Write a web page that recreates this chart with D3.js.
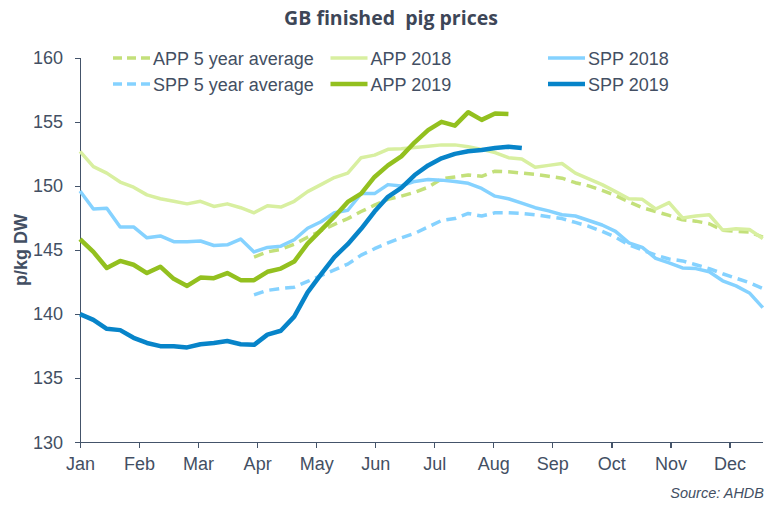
<!DOCTYPE html>
<meta charset="utf-8">
<style>
    body { margin: 0; background: #fff; }
    text { font-family: "Liberation Sans", Arial, sans-serif; fill: #434f63; }
    .axis path, .axis line { stroke: #44546a; stroke-width: 1.3; shape-rendering: crispEdges; }
</style>
<body>
<script src="https://d3js.org/d3.v7.min.js"></script>
<script>

// weekly prices, p/kg DW (week 1 = early January)
var months = ["Jan", "Feb", "Mar", "Apr", "May", "Jun", "Jul", "Aug", "Sep", "Oct", "Nov", "Dec"];
var yTicks = [130, 135, 140, 145, 150, 155, 160];

var app2018 = [152.7, 151.5, 151.0, 150.3, 149.9, 149.3, 149.0, 148.8, 148.6, 148.8, 148.4, 148.6, 148.3,
    147.9, 148.45, 148.35, 148.8, 149.55, 150.1, 150.65, 151.0, 152.2, 152.4, 152.85, 152.9, 153.0, 153.1,
    153.2, 153.2, 153.05, 152.85, 152.6, 152.2, 152.1, 151.45, 151.6, 151.75, 151.0, 150.55, 150.1, 149.55,
    149.0, 148.95, 148.2, 148.7, 147.5, 147.65, 147.75, 146.55, 146.65, 146.6, 145.9];
var spp2018 = [149.6, 148.2, 148.25, 146.8, 146.8, 145.95, 146.1, 145.65, 145.65, 145.7, 145.35, 145.4, 145.85,
    144.85, 145.2, 145.3, 145.8, 146.7, 147.2, 147.9, 148.1, 149.4, 149.4, 150.1, 150.0, 150.35, 150.5,
    150.45, 150.35, 150.2, 149.8, 149.2, 149.0, 148.65, 148.3, 148.05, 147.75, 147.65, 147.3, 146.95, 146.45,
    145.55, 145.2, 144.35, 144.0, 143.6, 143.55, 143.3, 142.6, 142.2, 141.65, 140.5];
var app2019 = [145.85, 144.85, 143.6, 144.15, 143.85, 143.2, 143.7, 142.75, 142.2, 142.85, 142.8, 143.2, 142.65,
    142.65, 143.3, 143.55, 144.1, 145.5, 146.55, 147.6, 148.75, 149.4, 150.7, 151.6, 152.3, 153.4, 154.35,
    155.0, 154.7, 155.75, 155.15, 155.65, 155.6];
var spp2019 = [140.0, 139.55, 138.85, 138.75, 138.15, 137.75, 137.5, 137.5, 137.4, 137.65, 137.75, 137.9, 137.65,
    137.6, 138.4, 138.7, 139.8, 141.7, 143.1, 144.45, 145.45, 146.65, 148.0, 149.15, 149.85, 150.85, 151.6,
    152.15, 152.5, 152.7, 152.8, 152.95, 153.05, 152.95];
// 5 year averages start at week 14
var app5yr = [144.45, 144.85, 145.05, 145.45, 146.0, 146.5, 147.0, 147.45, 148.0, 148.5, 148.95, 149.2, 149.5,
    149.9, 150.55, 150.7, 150.85, 150.75, 151.15, 151.1, 151.0, 150.9, 150.75, 150.6, 150.25, 150.0, 149.65,
    149.25, 148.75, 148.3, 148.0, 147.7, 147.35, 147.25, 147.05, 146.55, 146.45, 146.4, 146.0];
var spp5yr = [141.5, 141.85, 142.0, 142.1, 142.55, 143.0, 143.45, 143.9, 144.6, 145.1, 145.55, 145.95, 146.3,
    146.8, 147.3, 147.45, 147.85, 147.65, 147.9, 147.9, 147.85, 147.75, 147.6, 147.45, 147.15, 146.85, 146.45,
    146.0, 145.4, 145.0, 144.6, 144.3, 144.15, 143.85, 143.55, 143.15, 142.8, 142.45, 142.0];

var series = [
    { name: "APP 5 year average", values: app5yr, start: 13, color: "#c3e07a", width: 3.5, dash: "10,6" },
    { name: "APP 2018", values: app2018, start: 0, color: "#d8efa0", width: 3.5, dash: null },
    { name: "SPP 2018", values: spp2018, start: 0, color: "#85d2ff", width: 3.5, dash: null },
    { name: "SPP 5 year average", values: spp5yr, start: 13, color: "#85d2ff", width: 3.5, dash: "10,6" },
    { name: "APP 2019", values: app2019, start: 0, color: "#93c01f", width: 4.5, dash: null },
    { name: "SPP 2019", values: spp2019, start: 0, color: "#0784c9", width: 4.5, dash: null }
];

var width = 777, height = 505;
var plotLeft = 80, plotRight = 762.8, plotTop = 57.7, plotBottom = 442.3;

var svg = d3.select("body").append("svg")
    .attr("width", width)
    .attr("height", height);

// x runs in months, one data point per week
var monthsPerWeek = 11.565 / 51;
var x = d3.scaleLinear().domain([0, 11.565]).range([plotLeft, plotRight]);
var y = d3.scaleLinear().domain([130, 160]).range([plotBottom, plotTop]);

// title
svg.append("text")
    .attr("x", 391)
    .attr("y", 24.5)
    .attr("text-anchor", "middle")
    .style("white-space", "pre")
    .style("font-family", "'Open Sans', sans-serif")
    .style("font-weight", "bold")
    .style("font-size", "19.5px")
    .style("fill", "#3d4657")
    .text("GB finished  pig prices");

// y axis
svg.append("g")
    .attr("class", "axis")
    .attr("transform", "translate(" + plotLeft + ",0)")
    .call(d3.axisLeft(y).tickValues(yTicks).tickSize(5).tickSizeOuter(0).tickPadding(12))
    .call(g => g.selectAll("text").style("font-size", "18px").style("fill", "#434f63"));

// x axis
svg.append("g")
    .attr("class", "axis")
    .attr("transform", "translate(0," + plotBottom + ")")
    .call(d3.axisBottom(x).tickValues(d3.range(12)).tickFormat(i => months[i]).tickSize(6).tickSizeOuter(0).tickPadding(9))
    .call(g => g.selectAll("text").style("font-size", "18px").style("fill", "#434f63"));

svg.append("text")
    .attr("transform", "translate(27,250) rotate(-90)")
    .attr("text-anchor", "middle")
    .style("font-weight", "bold")
    .style("font-size", "18px")
    .text("p/kg DW");

svg.append("text")
    .attr("x", 764)
    .attr("y", 498)
    .attr("text-anchor", "end")
    .style("font-style", "italic")
    .style("font-size", "14.5px")
    .text("Source: AHDB");

// lines
series.forEach(function (s) {
    var line = d3.line()
        .x(function (d, i) { return x((s.start + i) * monthsPerWeek); })
        .y(function (d) { return y(d); });
    svg.append("path")
        .datum(s.values)
        .attr("d", line)
        .attr("fill", "none")
        .attr("stroke", s.color)
        .attr("stroke-width", s.width)
        .attr("stroke-linejoin", "round")
        .attr("stroke-dasharray", s.dash);
});

// legend, 3 columns x 2 rows
var legend = svg.append("g");
series.forEach(function (s, i) {
    var lx = 113 + (i % 3) * 217.5;
    var ly = 58 + Math.floor(i / 3) * 26;
    var g = legend.append("g").attr("transform", "translate(" + lx + "," + ly + ")");
    g.append("line")
        .attr("x1", 0).attr("x2", 37)
        .attr("y1", 0).attr("y2", 0)
        .attr("stroke", s.color)
        .attr("stroke-width", s.width)
        .attr("stroke-dasharray", s.dash ? "9,5" : null);
    g.append("text")
        .attr("x", 40)
        .attr("y", 6.5)
        .style("font-size", "18px")
        .text(s.name);
});

</script>
</body>
